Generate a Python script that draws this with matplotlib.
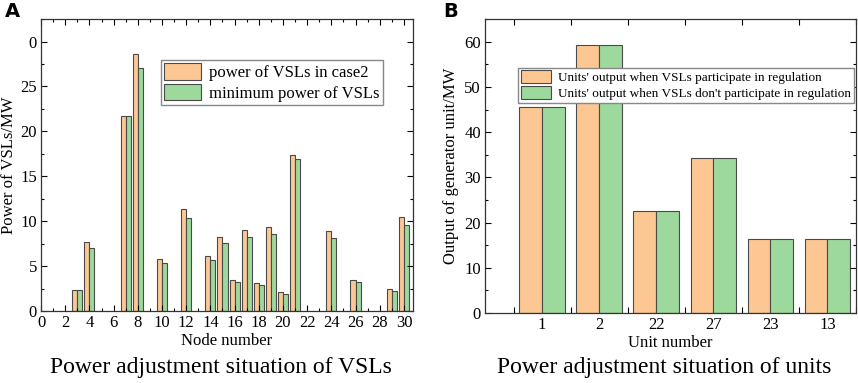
import numpy as np
import matplotlib
matplotlib.use('Agg')
import matplotlib.pyplot as plt
from matplotlib.ticker import MultipleLocator, FixedLocator

plt.rcParams['font.family'] = ['Liberation Serif', 'DejaVu Serif']

# panel A data
nodes = [3, 4, 7, 8, 10, 12, 14, 15, 16, 17, 18, 19, 20, 21, 24, 26, 29, 30]
vsl_case2 = [2.35, 7.67, 21.7, 28.6, 5.81, 11.37, 6.15, 8.26, 3.48, 9.0,
             3.11, 9.33, 2.11, 17.36, 8.89, 3.48, 2.41, 10.52]
vsl_min = [2.33, 6.96, 21.7, 27.05, 5.37, 10.4, 5.63, 7.52, 3.19, 8.22,
           2.85, 8.56, 1.93, 16.9, 8.11, 3.19, 2.19, 9.63]
ytick_labels_a = ['0', '5', '10', '15', '20', '25', '0']

# panel B data
units = ['1', '2', '22', '27', '23', '13']
out_with = [45.5, 59.2, 22.5, 34.3, 16.4, 16.4]
out_without = [45.5, 59.2, 22.5, 34.3, 16.4, 16.4]

orange = '#fdc794'
green = '#9dd99c'
edge = '#4a4a4a'

fig = plt.figure(figsize=(8.58, 3.83), dpi=100)

# ---- panel A ----
ax1 = fig.add_axes([0.0478, 0.188, 0.4336, 0.762])
w = 0.42
x = np.array(nodes)
ax1.bar(x - w/2, vsl_case2, w, color=orange, edgecolor=edge, linewidth=0.8,
        label='power of VSLs in case2')
ax1.bar(x + w/2, vsl_min, w, color=green, edgecolor=edge, linewidth=0.8,
        label='minimum power of VSLs')
ax1.set_xlim(0, 30.75)
ax1.set_ylim(0, 32.5)
ax1.set_xticks(range(0, 31, 2))
ax1.xaxis.set_minor_locator(MultipleLocator(1))
ax1.set_yticks(range(0, 31, 5))
ax1.set_yticklabels(ytick_labels_a)
ax1.yaxis.set_minor_locator(MultipleLocator(2.5))
ax1.set_xlabel('Node number', fontsize=12, labelpad=1)
ax1.set_ylabel('Power of VSLs/MW', fontsize=12, labelpad=2)
ax1.legend(loc='upper left', bbox_to_anchor=(0.322, 0.86), fontsize=12,
           handlelength=2.2, handleheight=1.15, labelspacing=0.15,
           handletextpad=0.5, borderpad=0.2, borderaxespad=0,
           fancybox=False, edgecolor='#888888', framealpha=1)

# ---- panel B ----
ax2 = fig.add_axes([0.5653, 0.1828, 0.4324, 0.7672])
xb = np.arange(1, len(units) + 1)
wb = 0.4
ax2.bar(xb - wb/2, out_with, wb, color=orange, edgecolor=edge, linewidth=0.8,
        label="Units' output when VSLs participate in regulation")
ax2.bar(xb + wb/2, out_without, wb, color=green, edgecolor=edge, linewidth=0.8,
        label="Units' output when VSLs don't participate in regulation")
ax2.set_xlim(0, 6.5)
ax2.set_ylim(0, 65)
ax2.xaxis.set_major_locator(FixedLocator(np.arange(0.5, 6.6, 1)))
ax2.xaxis.set_major_formatter(plt.NullFormatter())
ax2.set_xticks(xb, minor=True)
ax2.set_xticklabels(units, minor=True)
ax2.set_yticks(range(0, 61, 10))
ax2.yaxis.set_minor_locator(MultipleLocator(5))
ax2.set_xlabel('Unit number', fontsize=12, labelpad=1)
ax2.set_ylabel('Output of generator unit/MW', fontsize=12, labelpad=4)
ax2.legend(loc='upper left', bbox_to_anchor=(0.09, 0.835), fontsize=9.5,
           handlelength=2.3, handleheight=1.1, labelspacing=0.15,
           handletextpad=0.5, borderpad=0.2, borderaxespad=0,
           fancybox=False, edgecolor='#888888', framealpha=1)

for ax in (ax1, ax2):
    ax.tick_params(which='both', direction='in', top=True, right=True,
                   labelsize=12, pad=3)
    ax.tick_params(which='major', length=4, width=0.8)
    ax.tick_params(which='minor', length=2, width=0.8)
    for s in ax.spines.values():
        s.set_linewidth(0.9)
        s.set_color('#333333')
ax2.tick_params(axis='x', which='minor', length=0)

# panel letters and captions
fig.text(0.006, 0.955, 'A', fontsize=14, fontweight='bold', family='DejaVu Sans')
fig.text(0.517, 0.955, 'B', fontsize=14, fontweight='bold', family='DejaVu Sans')
fig.text(0.257, 0.025, 'Power adjustment situation of VSLs', fontsize=17,
         ha='center')
fig.text(0.774, 0.025, 'Power adjustment situation of units', fontsize=17,
         ha='center')

fig.savefig('out.png', dpi=100)
